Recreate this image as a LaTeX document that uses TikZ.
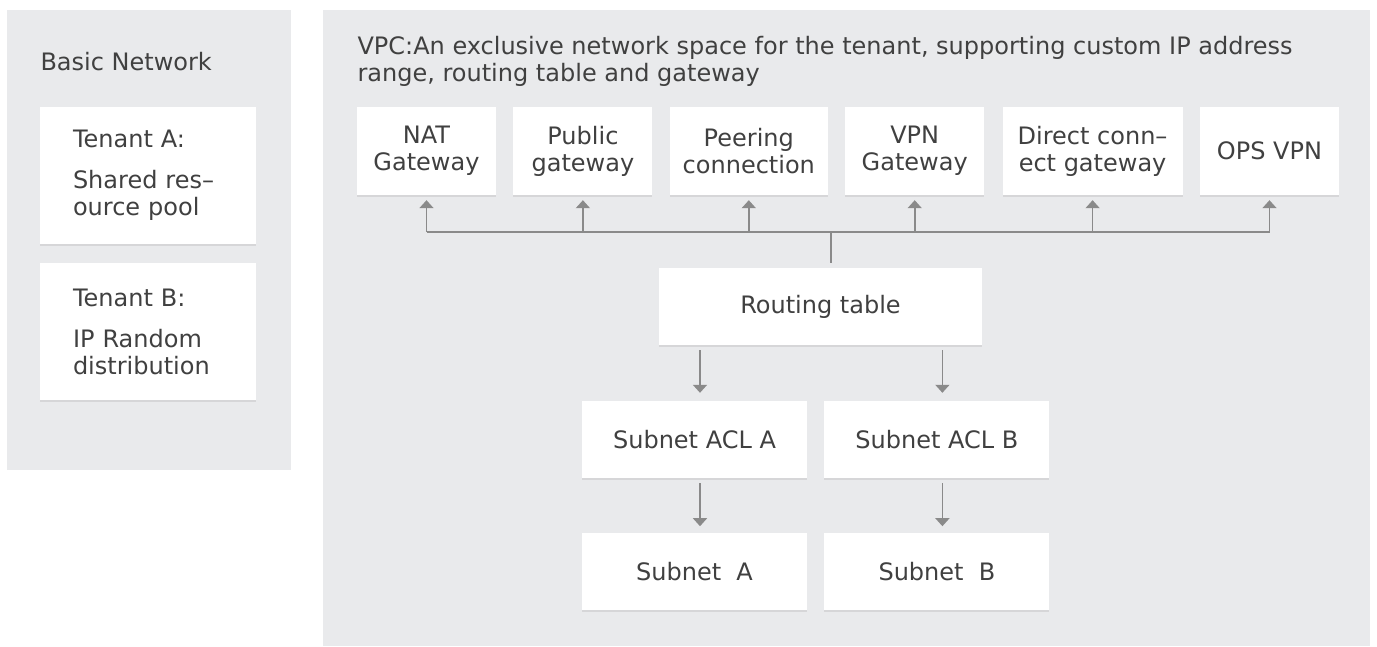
\documentclass[tikz,border=0pt]{standalone}
\usepackage{fontspec}
\setmainfont{DejaVu Sans}
\usetikzlibrary{positioning,calc,arrows.meta,shadows}
\definecolor{panelgray}{HTML}{E9EAEC}
\definecolor{linegray}{HTML}{8A8A8A}
\definecolor{textgray}{HTML}{404040}
\tikzstyle{block} = [rectangle, fill=white, text=textgray, align=center, inner sep=0pt, minimum height=88pt, minimum width=139pt, drop shadow={shadow xshift=0pt, shadow yshift=-2pt, opacity=0.18}]
\tikzstyle{wide} = [block, minimum width=225pt, minimum height=77pt]
\tikzstyle{tenant} = [block, align=left, text width=150pt, inner xsep=33pt, minimum height=137pt]
\tikzstyle{line} = [draw=linegray, line width=1.6pt]
\tikzstyle{arr} = [line, -{Triangle[width=14pt,length=8pt]}]

\begin{document}
\begin{tikzpicture}[x=1pt, y=-1pt, font=\fontsize{24pt}{27pt}\selectfont, text=textgray]
    \useasboundingbox (0,0) rectangle (1377,646);
    % the two grey panels
    \fill[panelgray] (7,10) rectangle (291,470);
    \fill[panelgray] (323,10) rectangle (1370,646);

    % basic network
    \node[anchor=base west] (basic) at (37,70) {Basic Network};
    \node[tenant] (tenA) at (148,175.5) {Tenant A:\\[14pt]Shared res–\\ource pool};
    \node[tenant, below=19pt of tenA] (tenB) {Tenant B:\\[14pt]IP Random\\distribution};

    % vpc
    \node[anchor=base west, align=left] (vpc) at (354,81) {VPC:An exclusive network space for the tenant, supporting custom IP address\\range, routing table and gateway};
    \node[block] (nat) at (426.5,151) {NAT\\Gateway};
    \node[block, right=17pt of nat] (pub) {Public\\gateway};
    \node[block, right=17pt of pub, minimum width=158pt] (peer) {Peering\\connection};
    \node[block, right=17pt of peer] (vpn) {VPN\\Gateway};
    \node[block, right=18pt of vpn, minimum width=180pt] (dcg) {Direct conn–\\ect gateway};
    \node[block, right=17pt of dcg] (ops) {OPS VPN};

    \node[block, minimum width=323pt, minimum height=77pt] (rt) at (820.5,306.5) {Routing table};
    \node[wide] (aclA) at (694.5,439.5) {Subnet ACL A};
    \node[wide, right=17pt of aclA] (aclB) {Subnet ACL B};
    \node[wide, below=55pt of aclA] (subA) {Subnet~~A};
    \node[wide, below=55pt of aclB] (subB) {Subnet~~B};

    \coordinate (bus) at ($(rt.north)+(10.5,-36)$);

    \draw[line, shorten >=5pt] (bus) -- (bus |- rt.north);
    \draw[line] (bus -| nat) -- (bus -| ops);
    \foreach \g in {nat,pub,peer,vpn,dcg,ops}
        \draw[arr, shorten >=5pt] (bus -| \g) -- (\g);
    \draw[arr, shorten <=5pt, shorten >=8pt] ([xshift=5.5pt]aclA.north |- rt.south) -- ([xshift=5.5pt]aclA.north);
    \draw[arr, shorten <=5pt, shorten >=8pt] ([xshift=5.5pt]aclB.north |- rt.south) -- ([xshift=5.5pt]aclB.north);
    \draw[arr, shorten <=5pt, shorten >=7pt] ([xshift=5.5pt]aclA.south) -- ([xshift=5.5pt]subA.north);
    \draw[arr, shorten <=5pt, shorten >=7pt] ([xshift=5.5pt]aclB.south) -- ([xshift=5.5pt]subB.north);
\end{tikzpicture}
\end{document}
